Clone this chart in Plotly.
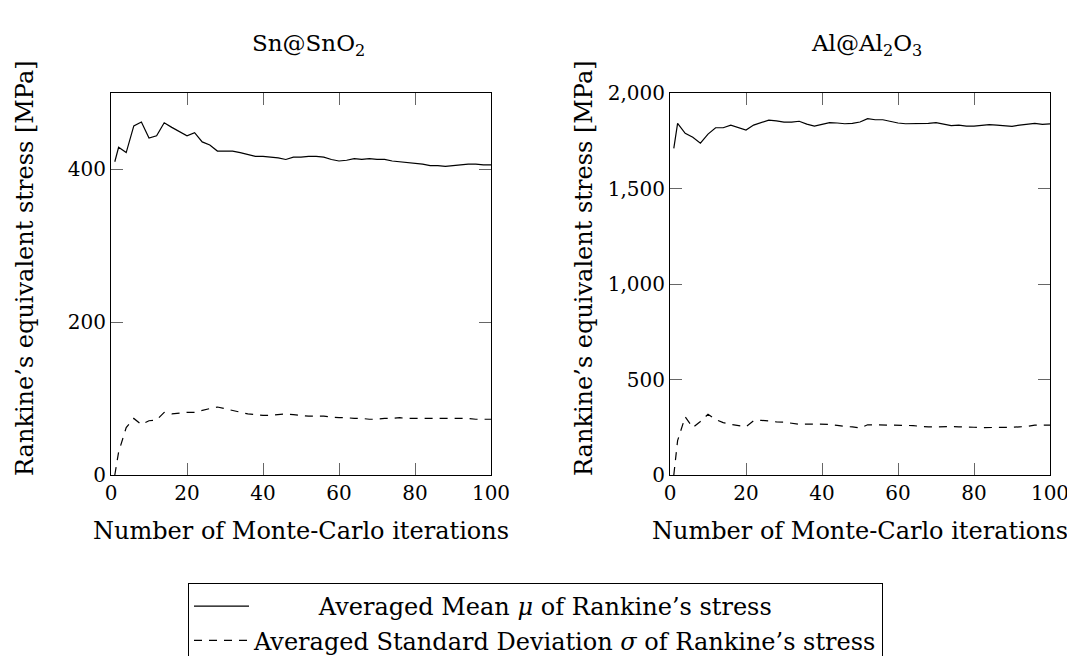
import plotly.graph_objects as go

iterations = [1, 2] + list(range(4, 101, 2))

sn_mean = [410, 429, 422, 457, 462, 441, 444, 461, 455, 449, 444, 448, 436, 432, 424, 424,
           424, 422, 419, 417, 417, 416, 415, 413, 416, 416, 417, 417, 416, 413, 411, 412,
           414, 413, 414, 413, 413, 411, 410, 409, 408, 407, 405, 405, 404, 405, 406, 407,
           407, 406, 406]
sn_std = [0, 30, 62, 74, 66, 71, 72, 82, 80, 81, 82, 82, 85, 87, 89, 87,
          84, 82, 80, 79, 78, 78, 79, 80, 79, 78, 77, 77, 77, 76, 75, 75,
          74, 74, 73, 73, 74, 74, 75, 74, 74, 74, 74, 74, 74, 74, 74, 74,
          73, 73, 73]
al_mean = [1710, 1841, 1789, 1768, 1737, 1785, 1818, 1818, 1832, 1820, 1806, 1832, 1846, 1858,
           1854, 1848, 1848, 1852, 1837, 1827, 1836, 1845, 1843, 1839, 1841, 1848, 1866, 1860,
           1860, 1852, 1843, 1839, 1839, 1839, 1841, 1845, 1836, 1829, 1832, 1827, 1827, 1831,
           1834, 1832, 1829, 1825, 1832, 1836, 1841, 1836, 1838]
al_std = [0, 180, 305, 248, 280, 318, 291, 274, 265, 258, 253, 284, 286, 283, 278, 277, 272,
          265, 267, 267, 267, 265, 260, 254, 252, 246, 263, 263, 261, 261, 260, 260, 258, 254,
          252, 252, 254, 254, 252, 252, 250, 248, 248, 250, 250, 250, 252, 254, 261, 261, 261]

titles = ["Sn@SnO<sub>2</sub>", "Al@Al<sub>2</sub>O<sub>3</sub>"]
ylabel = "Rankine\u2019s equivalent stress [MPa]"
xlabel = "Number of Monte-Carlo iterations"
mean_name = "\u2003\u2003\u2002\u2009Averaged Mean <i>\u03bc</i> of Rankine\u2019s stress"
std_name = "Averaged Standard Deviation <i>\u03c3</i> of Rankine\u2019s stress"

FONT = "DejaVu Serif"
fs = 24
lfs = 24
tfs = 20
W, H = 1075, 656
OFF = 8  # page body margin

fig = go.Figure()
line_solid = dict(color="black", width=1.2)
line_dash = dict(color="black", width=1.2, dash="8px,7px")
fig.add_trace(go.Scatter(x=iterations, y=sn_mean, mode="lines", line=line_solid,
                         name=mean_name, legendgroup="m", xaxis="x", yaxis="y"))
fig.add_trace(go.Scatter(x=iterations, y=sn_std, mode="lines", line=line_dash,
                         name=std_name, legendgroup="s", xaxis="x", yaxis="y"))
fig.add_trace(go.Scatter(x=iterations, y=al_mean, mode="lines", line=line_solid,
                         name=mean_name, legendgroup="m", showlegend=False, xaxis="x2", yaxis="y2"))
fig.add_trace(go.Scatter(x=iterations, y=al_std, mode="lines", line=line_dash,
                         name=std_name, legendgroup="s", showlegend=False, xaxis="x2", yaxis="y2"))

def px_x(p):
    return (p - OFF) / W

def px_y(p):
    return 1 - (p - OFF) / H

axis_common = dict(showline=True, linecolor="black", linewidth=1.1, mirror="allticks",
                   ticks="inside", ticklen=12, tickcolor="#666", tickwidth=1,
                   showgrid=False, zeroline=False, automargin=False, ticklabelstandoff=0,
                   tickfont=dict(family=FONT, size=tfs, color="black"))

dom_y = [px_y(475), px_y(93)]
fig.update_layout(
    width=W, height=H,
    margin=dict(l=0, r=0, t=0, b=0, pad=0, autoexpand=False),
    plot_bgcolor="white", paper_bgcolor="white",
    font=dict(family=FONT, size=fs, color="black"),
    xaxis=dict(domain=[px_x(111), px_x(491)], range=[0, 100], dtick=20, anchor="y", **axis_common),
    yaxis=dict(domain=dom_y, range=[0, 500], tickvals=[0, 200, 400], anchor="x", **axis_common),
    xaxis2=dict(domain=[px_x(670), px_x(1050)], range=[0, 100], dtick=20, anchor="y2", **axis_common),
    yaxis2=dict(domain=dom_y, range=[0, 2000], dtick=500, tickformat=",", anchor="x2", **axis_common),
    legend=dict(x=px_x(188), y=px_y(583), xanchor="left", yanchor="top",
                bordercolor="black", borderwidth=1, bgcolor="white",
                font=dict(family=FONT, size=lfs), tracegroupgap=0, itemwidth=55),
    showlegend=True,
)

anns = []
for cx, t in [(308, titles[0]), (866, titles[1])]:
    anns.append(dict(x=px_x(cx), y=px_y(45), xref="paper", yref="paper", text=t,
                     xanchor="center", yanchor="middle",
                     showarrow=False, font=dict(family=FONT, size=23)))
for cx in [301, 860]:
    anns.append(dict(x=px_x(cx), y=px_y(531), xref="paper", yref="paper", text=xlabel,
                     xanchor="center", yanchor="middle",
                     showarrow=False, font=dict(family=FONT, size=fs)))
for cx in [25, 584]:
    anns.append(dict(x=px_x(cx), y=px_y(268), xref="paper", yref="paper", text=ylabel,
                     xanchor="center", yanchor="middle",
                     textangle=-90, showarrow=False, font=dict(family=FONT, size=fs)))
fig.update_layout(annotations=anns)

fig.write_html("out.html")
